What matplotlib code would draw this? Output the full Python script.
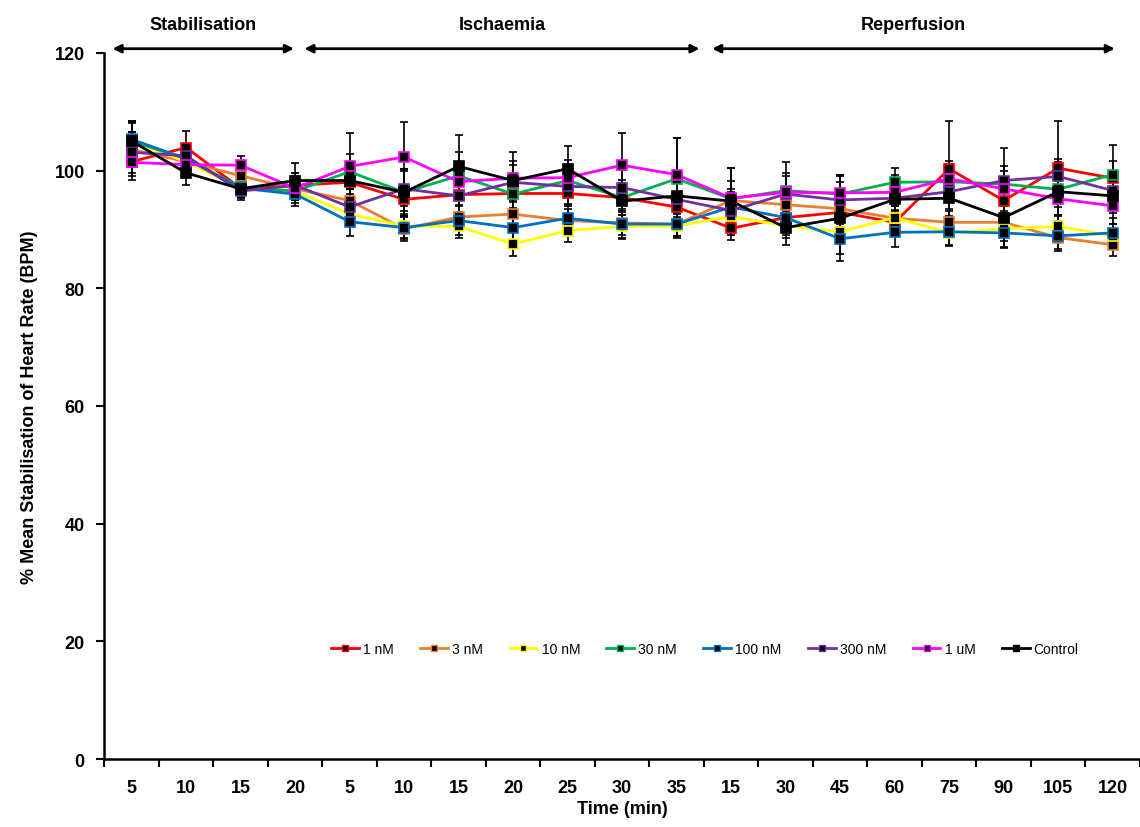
import numpy as np
import matplotlib
matplotlib.use("Agg")
import matplotlib.pyplot as plt
from matplotlib.lines import Line2D

plt.rcParams['font.family'] = ['Liberation Sans', 'DejaVu Sans']

# time labels for the three phases
stab_times = ['5', '10', '15', '20']
isch_times = ['5', '10', '15', '20', '25', '30', '35']
rep_times = ['15', '30', '45', '60', '75', '90', '105', '120']
time_labels = stab_times + isch_times + rep_times

series_names = ['1 nM', '3 nM', '10 nM', '30 nM', '100 nM', '300 nM', '1 uM', 'Control']
series_colors = ['#ff0000', '#ed7d31', '#ffff00', '#00b050', '#0070c0', '#7030a0', '#ff00ff', '#000000']

hr_1nM = [101.5, 103.9, 97.0, 97.5, 98.0, 95.1, 95.9, 96.1, 96.1, 95.4, 93.8, 90.2, 92.0, 92.9, 91.2, 100.3, 94.9, 100.4, 98.7]
hr_3nM = [103.6, 101.5, 99.1, 96.9, 94.9, 90.1, 92.1, 92.6, 91.5, 91.1, 90.9, 94.9, 94.2, 93.5, 91.9, 91.2, 91.2, 88.6, 87.4]
hr_10nM = [105.0, 101.5, 97.0, 96.5, 92.6, 90.6, 90.5, 87.5, 89.8, 90.5, 90.6, 92.2, 90.6, 89.6, 92.0, 89.4, 90.1, 90.5, 88.9]
hr_30nM = [105.0, 102.0, 97.2, 96.5, 99.8, 96.3, 99.1, 96.0, 98.3, 95.4, 98.6, 95.2, 96.6, 96.0, 98.0, 98.1, 97.7, 96.8, 99.3]
hr_100nM = [105.3, 102.0, 97.0, 96.0, 91.3, 90.3, 91.5, 90.3, 91.9, 90.9, 90.9, 93.8, 92.0, 88.4, 89.5, 89.6, 89.4, 88.9, 89.4]
hr_300nM = [103.1, 102.5, 96.5, 97.5, 93.8, 96.9, 95.7, 98.0, 97.3, 97.1, 95.1, 93.2, 96.0, 95.0, 95.3, 96.4, 98.3, 99.0, 96.6]
hr_1uM = [101.4, 101.0, 100.9, 97.0, 100.7, 102.3, 98.1, 98.7, 98.8, 100.9, 99.3, 95.3, 96.3, 96.2, 96.3, 98.6, 96.9, 95.2, 94.0]
hr_control = [105.0, 99.6, 96.9, 98.3, 98.3, 96.3, 100.7, 98.3, 100.3, 94.8, 95.7, 94.8, 90.3, 91.9, 95.1, 95.3, 92.0, 96.4, 95.7]

err_1nM = [2.5, 2.8, 1.5, 2.0, 2.0, 2.0, 3.0, 2.5, 2.0, 2.5, 2.0, 2.0, 3.0, 2.5, 2.0, 8.2, 2.5, 8.0, 3.0]
err_3nM = [3.0, 2.0, 1.5, 1.5, 2.0, 2.0, 2.0, 2.0, 2.0, 2.0, 2.0, 2.0, 2.0, 5.7, 2.0, 2.0, 2.0, 2.0, 2.0]
err_10nM = [3.0, 2.0, 1.5, 1.5, 2.0, 2.0, 2.0, 2.0, 2.0, 2.0, 2.0, 2.0, 2.0, 2.0, 2.0, 2.0, 2.0, 2.0, 2.0]
err_30nM = [3.5, 2.0, 1.5, 2.0, 3.0, 4.0, 4.0, 3.0, 2.5, 3.0, 6.9, 3.0, 3.0, 3.0, 2.5, 3.0, 3.0, 3.0, 5.0]
err_100nM = [3.0, 2.0, 1.5, 2.0, 2.5, 2.0, 2.5, 2.5, 2.0, 2.5, 2.0, 2.5, 2.5, 2.5, 2.5, 2.5, 2.5, 2.5, 2.5]
err_300nM = [3.5, 2.0, 1.5, 2.0, 3.0, 3.0, 3.0, 3.0, 3.0, 3.0, 3.0, 3.0, 3.0, 3.0, 3.0, 3.0, 5.5, 3.0, 3.0]
err_1uM = [3.0, 2.0, 1.5, 2.0, 5.7, 6.0, 3.0, 3.0, 3.0, 5.5, 6.2, 5.2, 5.2, 3.0, 3.0, 3.0, 3.0, 3.0, 3.0]
err_control = [3.5, 2.0, 1.5, 3.0, 3.0, 4.0, 5.4, 4.9, 3.8, 3.0, 3.0, 5.7, 3.0, 7.3, 3.0, 3.0, 5.0, 5.0, 3.0]

all_hr = [hr_1nM, hr_3nM, hr_10nM, hr_30nM, hr_100nM, hr_300nM, hr_1uM, hr_control]
all_err = [err_1nM, err_3nM, err_10nM, err_30nM, err_100nM, err_300nM, err_1uM, err_control]

phases = ['Stabilisation', 'Ischaemia', 'Reperfusion']
# arrow extents in category units (start, end)
phase_spans = [(-0.4, 3.03), (3.12, 10.47), (10.6, 18.09)]


def main():
    fig, ax = plt.subplots(figsize=(11.4, 8.28), dpi=100)
    fig.subplots_adjust(left=0.0915, right=1.0, bottom=0.082, top=0.935)

    x = np.arange(len(time_labels))

    handles = []
    for hr, err, name, col in zip(all_hr, all_err, series_names, series_colors):
        ax.errorbar(x, hr, yerr=err, fmt='s-', color=col, lw=2, ms=7,
                    mfc='black', mec=col, mew=1.2, ecolor='black',
                    elinewidth=1.2, capsize=3, capthick=1.2)
        handles.append(Line2D([], [], color=col, lw=2, marker='s', ms=5,
                              mfc='black', mec=col, mew=1.0, label=name))

    ax.set_xlim(-0.5, len(time_labels) - 0.5)
    ax.set_ylim(0, 120)
    ax.set_yticks(np.arange(0, 121, 20))
    ax.set_xticks(x)
    ax.set_xticklabels(time_labels, fontsize=13, fontweight='bold')
    ax.set_xticks(np.arange(-0.5, len(time_labels), 1), minor=True)
    ax.tick_params(axis='x', which='major', length=0, pad=14)
    ax.tick_params(axis='x', which='minor', length=6, width=1.5, direction='out')
    ax.tick_params(axis='y', length=6, width=1.5, pad=8, labelsize=13)
    for lab in ax.get_yticklabels():
        lab.set_fontweight('bold')

    ax.spines['top'].set_visible(False)
    ax.spines['right'].set_visible(False)
    ax.spines['left'].set_linewidth(1.8)
    ax.spines['bottom'].set_linewidth(1.8)

    ax.set_xlabel('Time (min)', fontsize=13, fontweight='bold', labelpad=3)
    ax.set_ylabel('% Mean Stabilisation of Heart Rate (BPM)', fontsize=13,
                  fontweight='bold', labelpad=12)

    # phase arrows above the plot
    for name, (x0, x1) in zip(phases, phase_spans):
        ax.annotate('', xy=(x1, 120.7), xytext=(x0, 120.7),
                    arrowprops=dict(arrowstyle='<|-|>', color='black', lw=2,
                                    mutation_scale=12), annotation_clip=False)
        ax.text((x0 + x1) / 2, 124.8, name, ha='center', va='center',
                fontsize=13, fontweight='bold', clip_on=False)

    ax.legend(handles=handles, loc='center', bbox_to_anchor=(0.58, 0.156), ncol=8,
              frameon=False, fontsize=10, handlelength=2.0,
              columnspacing=1.9, handletextpad=0.3)

    fig.savefig('out.png', dpi=100)


if __name__ == "__main__":
    main()
